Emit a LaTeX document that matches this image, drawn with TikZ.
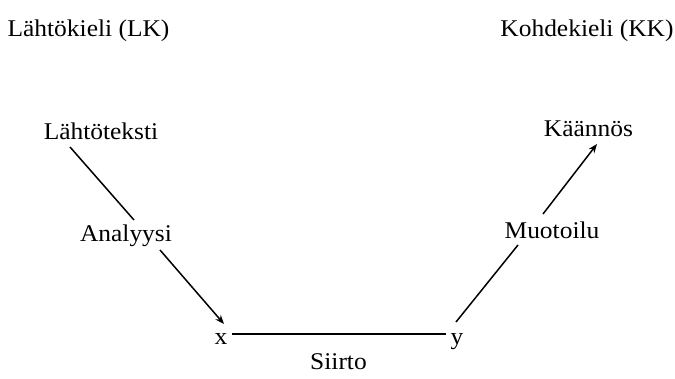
\documentclass[tikz,border=0pt]{standalone}
\usepackage{fontspec}
\setmainfont{Liberation Serif}[FakeStretch=1.06]
\usetikzlibrary{arrows.meta}
\begin{document}
\begin{tikzpicture}[x=1pt,y=-1pt,
  lbl/.style={anchor=base,inner sep=0pt,font=\fontsize{24}{28}\selectfont},
  conn/.style={line width=1.5pt},
  arr/.style={conn,-{Stealth[length=9pt,width=7pt]}}]
\useasboundingbox (0,0) rectangle (675,379);
\node[lbl] (lk) at (88.5,37) {Lähtökieli (LK)};
\node[lbl] (kk) at (587,37) {Kohdekieli (KK)};
\node[lbl] (lt) at (101,140) {Lähtöteksti};
\node[lbl] (kn) at (588.5,137) {Käännös};
\node[lbl] (an) at (126,242) {Analyysi};
\node[lbl] (mu) at (552,239) {Muotoilu};
\node[lbl] (x) at (221,345) {x};
\node[lbl] (y) at (457,345) {y};
\node[lbl] (si) at (338.5,370) {Siirto};
\draw[conn] ([shift={(-31,7)}]lt.base) -- ([shift={(8,-22)}]an.base);
\draw[arr] ([shift={(34,8)}]an.base) -- ([shift={(3,-21)}]x.base);
\draw[conn] ([shift={(11,-11)}]x.base) -- ([shift={(-11,-11)}]y.base);
\draw[conn] ([shift={(-1,-23)}]y.base) -- ([shift={(-34,6)}]mu.base);
\draw[arr] ([shift={(-9,-25)}]mu.base) -- ([shift={(8.5,7)}]kn.base);
\end{tikzpicture}
\end{document}
